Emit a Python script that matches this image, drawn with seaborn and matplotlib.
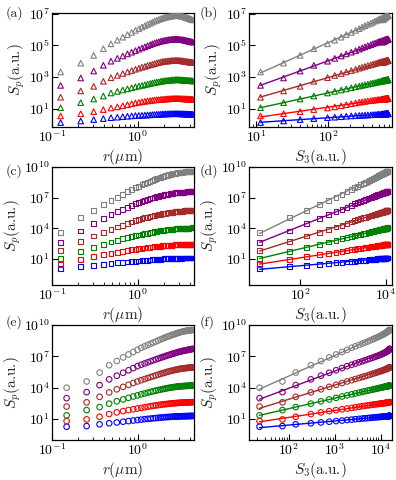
import numpy as np
import pandas as pd
import matplotlib
matplotlib.use("Agg")
import matplotlib.pyplot as plt
import seaborn as sns
from matplotlib.ticker import FixedLocator, FuncFormatter, NullLocator

# ---------------- data (log10 of S_p) ----------------
r_a = [0.126, 0.216, 0.306, 0.396, 0.486, 0.576, 0.666, 0.756, 0.846, 0.936,
       1.026, 1.116, 1.206, 1.296, 1.386, 1.476, 1.566, 1.656, 1.746, 1.836,
       1.926, 2.016, 2.106, 2.196, 2.286, 2.376, 2.466, 2.556, 2.646, 2.736,
       2.826, 2.916, 3.006, 3.096, 3.186, 3.276, 3.366, 3.456, 3.546, 3.636,
       3.726, 3.816, 3.906, 3.996, 4.086, 4.176, 4.266, 4.356]
a_p1 = [0.12, 0.22, 0.31, 0.37, 0.43, 0.46, 0.49, 0.52, 0.54, 0.56,
        0.57, 0.58, 0.59, 0.60, 0.61, 0.62, 0.63, 0.64, 0.64, 0.65, 0.66, 0.66, 0.67, 0.67, 0.67,
        0.68, 0.68, 0.68, 0.68, 0.68, 0.68, 0.68, 0.68, 0.68, 0.67, 0.67, 0.67, 0.67, 0.66, 0.66,
        0.66, 0.66, 0.65, 0.65, 0.65, 0.65, 0.65, 0.64]
a_p2 = [0.54, 0.68, 0.81, 0.94, 1.04, 1.11, 1.18, 1.25, 1.31, 1.36,
        1.40, 1.43, 1.46, 1.49, 1.51, 1.53, 1.55, 1.56, 1.57, 1.58, 1.59, 1.60, 1.61, 1.62, 1.62,
        1.63, 1.63, 1.63, 1.64, 1.64, 1.64, 1.64, 1.64, 1.63, 1.63, 1.63, 1.62, 1.62, 1.62, 1.61,
        1.61, 1.61, 1.60, 1.60, 1.60, 1.60, 1.59, 1.59]
a_p3 = [1.06, 1.38, 1.61, 1.80, 1.99, 2.09, 2.18, 2.25, 2.32, 2.38,
        2.43, 2.47, 2.51, 2.55, 2.59, 2.62, 2.65, 2.68, 2.70, 2.72, 2.74, 2.76, 2.77, 2.78, 2.79,
        2.80, 2.81, 2.82, 2.82, 2.83, 2.83, 2.83, 2.83, 2.82, 2.82, 2.81, 2.81, 2.80, 2.80, 2.79,
        2.79, 2.78, 2.78, 2.77, 2.77, 2.76, 2.76, 2.75]
a_p4 = [1.72, 2.12, 2.41, 2.73, 2.96, 3.10, 3.22, 3.32, 3.41, 3.49,
        3.56, 3.62, 3.67, 3.73, 3.77, 3.81, 3.85, 3.89, 3.92, 3.95, 3.97, 3.99, 4.00, 4.01, 4.02,
        4.03, 4.04, 4.04, 4.05, 4.05, 4.05, 4.05, 4.04, 4.04, 4.03, 4.02, 4.01, 4.00, 3.99, 3.98,
        3.97, 3.96, 3.96, 3.95, 3.94, 3.94, 3.93, 3.93]
a_p5 = [2.47, 2.94, 3.38, 3.74, 4.00, 4.18, 4.33, 4.46, 4.57, 4.67,
        4.76, 4.84, 4.91, 4.98, 5.04, 5.10, 5.15, 5.19, 5.23, 5.26, 5.29, 5.31, 5.33, 5.35, 5.36,
        5.37, 5.38, 5.39, 5.40, 5.40, 5.40, 5.40, 5.39, 5.38, 5.37, 5.36, 5.35, 5.34, 5.33, 5.31,
        5.30, 5.28, 5.27, 5.26, 5.25, 5.23, 5.22, 5.21]
a_p6 = [3.32, 3.88, 4.37, 4.79, 5.10, 5.33, 5.52, 5.68, 5.82, 5.95,
        6.06, 6.16, 6.25, 6.33, 6.40, 6.47, 6.54, 6.59, 6.64, 6.68, 6.72, 6.75, 6.78, 6.80, 6.82,
        6.84, 6.86, 6.87, 6.88, 6.89, 6.89, 6.89, 6.88, 6.87, 6.86, 6.85, 6.83, 6.81, 6.79, 6.77,
        6.75, 6.73, 6.71, 6.69, 6.67, 6.65, 6.63, 6.61]

r_c = list(r_a)
c_p1 = [0.09, 0.27, 0.40, 0.50, 0.57, 0.63, 0.68, 0.72, 0.76, 0.79,
        0.82, 0.85, 0.87, 0.90, 0.92, 0.94, 0.96, 0.97, 0.99, 1.00, 1.01, 1.02, 1.03, 1.04, 1.05,
        1.05, 1.06, 1.07, 1.07, 1.08, 1.08, 1.08, 1.09, 1.09, 1.09, 1.10, 1.10, 1.10, 1.10, 1.10,
        1.11, 1.11, 1.11, 1.11, 1.11, 1.11, 1.11, 1.11]
c_p2 = [0.51, 0.95, 1.22, 1.42, 1.57, 1.68, 1.77, 1.84, 1.90, 1.95,
        2.00, 2.04, 2.08, 2.12, 2.15, 2.18, 2.20, 2.23, 2.25, 2.27, 2.29, 2.30, 2.32, 2.33, 2.34,
        2.35, 2.36, 2.37, 2.38, 2.39, 2.39, 2.40, 2.41, 2.41, 2.42, 2.42, 2.42, 2.43, 2.43, 2.43,
        2.44, 2.44, 2.44, 2.44, 2.45, 2.45, 2.45, 2.45]
c_p3 = [1.06, 1.76, 2.16, 2.45, 2.67, 2.84, 2.98, 3.10, 3.20, 3.28,
        3.35, 3.42, 3.48, 3.54, 3.59, 3.63, 3.67, 3.71, 3.74, 3.77, 3.80, 3.82, 3.84, 3.86, 3.88,
        3.90, 3.91, 3.92, 3.94, 3.95, 3.96, 3.97, 3.97, 3.98, 3.99, 4.00, 4.00, 4.01, 4.01, 4.02,
        4.02, 4.03, 4.03, 4.04, 4.04, 4.04, 4.05, 4.05]
c_p4 = [1.82, 2.72, 3.25, 3.62, 3.91, 4.13, 4.32, 4.48, 4.62, 4.75,
        4.86, 4.95, 5.03, 5.10, 5.16, 5.21, 5.26, 5.31, 5.35, 5.39, 5.42, 5.45, 5.48, 5.51, 5.53,
        5.55, 5.57, 5.59, 5.61, 5.62, 5.63, 5.65, 5.66, 5.67, 5.68, 5.69, 5.70, 5.71, 5.72, 5.72,
        5.73, 5.74, 5.74, 5.75, 5.75, 5.76, 5.76, 5.77]
c_p5 = [2.60, 3.75, 4.45, 4.95, 5.33, 5.62, 5.86, 6.07, 6.25, 6.41,
        6.55, 6.66, 6.75, 6.84, 6.91, 6.98, 7.04, 7.10, 7.15, 7.20, 7.24, 7.28, 7.31, 7.34, 7.37,
        7.40, 7.42, 7.44, 7.46, 7.47, 7.49, 7.50, 7.51, 7.52, 7.53, 7.54, 7.54, 7.55, 7.55, 7.56,
        7.56, 7.57, 7.57, 7.57, 7.58, 7.58, 7.58, 7.58]
c_p6 = [3.60, 5.06, 5.77, 6.30, 6.72, 7.05, 7.33, 7.57, 7.78, 7.97,
        8.13, 8.27, 8.39, 8.50, 8.60, 8.69, 8.78, 8.86, 8.93, 8.99, 9.05, 9.10, 9.15, 9.20, 9.24,
        9.28, 9.31, 9.34, 9.37, 9.39, 9.41, 9.43, 9.45, 9.47, 9.48, 9.50, 9.51, 9.52, 9.53, 9.54,
        9.55, 9.55, 9.56, 9.56, 9.57, 9.57, 9.58, 9.58]

r_e = [0.148, 0.253, 0.358, 0.463, 0.568, 0.673, 0.778, 0.883, 0.988,
       1.093, 1.198, 1.303, 1.408, 1.513, 1.618, 1.723, 1.828, 1.933, 2.038,
       2.143, 2.248, 2.353, 2.458, 2.563, 2.668, 2.773, 2.878, 2.983, 3.088,
       3.193, 3.298, 3.403, 3.508, 3.613, 3.718, 3.823, 3.928, 4.033, 4.138,
       4.243, 4.348]
e_p1 = [0.27, 0.33, 0.50, 0.60, 0.68, 0.75, 0.81, 0.86, 0.91,
        0.95, 0.99, 1.02, 1.05, 1.08, 1.10, 1.12, 1.14, 1.16, 1.18, 1.19, 1.20, 1.21, 1.22, 1.23,
        1.24, 1.25, 1.25, 1.26, 1.26, 1.27, 1.27, 1.28, 1.28, 1.28, 1.29, 1.29, 1.29, 1.29, 1.30,
        1.30, 1.30]
e_p2 = [0.81, 0.97, 1.22, 1.48, 1.64, 1.76, 1.86, 1.94, 2.01,
        2.07, 2.13, 2.18, 2.23, 2.27, 2.31, 2.34, 2.37, 2.40, 2.42, 2.44, 2.46, 2.48, 2.50, 2.51,
        2.52, 2.53, 2.54, 2.55, 2.56, 2.57, 2.58, 2.58, 2.59, 2.59, 2.60, 2.60, 2.61, 2.61, 2.61,
        2.62, 2.62]
e_p3 = [1.36, 1.86, 2.15, 2.48, 2.70, 2.88, 3.03, 3.16, 3.27,
        3.37, 3.45, 3.53, 3.60, 3.66, 3.72, 3.77, 3.82, 3.86, 3.90, 3.94, 3.97, 4.00, 4.03, 4.05,
        4.07, 4.09, 4.11, 4.12, 4.13, 4.14, 4.15, 4.16, 4.17, 4.17, 4.18, 4.18, 4.19, 4.19, 4.20,
        4.20, 4.20]
e_p4 = [2.20, 2.60, 3.13, 3.55, 3.85, 4.08, 4.28, 4.45, 4.60,
        4.72, 4.83, 4.93, 5.02, 5.10, 5.18, 5.25, 5.32, 5.38, 5.44, 5.49, 5.54, 5.58, 5.62, 5.66,
        5.69, 5.72, 5.75, 5.78, 5.80, 5.82, 5.84, 5.86, 5.87, 5.88, 5.89, 5.90, 5.91, 5.92, 5.93,
        5.94, 5.95]
e_p5 = [3.00, 3.58, 4.25, 4.80, 5.15, 5.43, 5.67, 5.88, 6.06,
        6.20, 6.32, 6.43, 6.53, 6.62, 6.71, 6.79, 6.86, 6.93, 6.99, 7.05, 7.11, 7.16, 7.21, 7.26,
        7.30, 7.34, 7.38, 7.42, 7.45, 7.48, 7.51, 7.54, 7.56, 7.58, 7.60, 7.62, 7.64, 7.66, 7.68,
        7.70, 7.72]
e_p6 = [4.00, 4.60, 5.45, 6.15, 6.55, 6.90, 7.18, 7.42, 7.62,
        7.82, 7.96, 8.09, 8.21, 8.32, 8.42, 8.52, 8.61, 8.69, 8.77, 8.84, 8.91, 8.97, 9.03, 9.08,
        9.13, 9.18, 9.22, 9.26, 9.30, 9.33, 9.36, 9.39, 9.41, 9.43, 9.45, 9.47, 9.48, 9.49, 9.50,
        9.51, 9.52]

colors = ["blue", "red", "green", "brown", "purple", "gray"]
panel_labels = ["(a)", "(b)", "(c)", "(d)", "(e)", "(f)"]

# ---------------- style ----------------
sns.set_theme(style="ticks")
plt.rcParams.update({
    "font.family": ["cmr10", "DejaVu Serif"],
    "axes.formatter.use_mathtext": True,
    "mathtext.fontset": "cm",
    "xtick.direction": "in", "ytick.direction": "in",
    "xtick.major.size": 4, "ytick.major.size": 4,
    "xtick.minor.size": 2, "ytick.minor.size": 2,
    "xtick.major.width": 0.8, "ytick.major.width": 0.8,
    "xtick.minor.width": 0.6, "ytick.minor.width": 0.6,
    "xtick.major.pad": 2, "ytick.major.pad": 1.5,
    "axes.linewidth": 0.9, "axes.edgecolor": "black",
    "xtick.color": "black", "ytick.color": "black",
    "axes.facecolor": "white",
})

fig = plt.figure(figsize=(3.96, 4.8), dpi=100)
W, H = 396.0, 480.0


def add_ax(x0, x1, y0, y1):
    return fig.add_axes([x0 / W, 1 - y1 / H, (x1 - x0) / W, (y1 - y0) / H])


rows = [(13, 127), (167, 285), (325, 440)]
cols = [(52, 194), (249, 392)]

fmt = FuncFormatter(lambda v, pos: r"$10^{%d}$" % int(round(np.log10(v))))


def style_axis(ax, xlim, ylim, xmaj, xmin, ymaj, xlabel):
    ax.set_xscale("log")
    ax.set_yscale("log")
    ax.set_xlim(*xlim)
    ax.set_ylim(*ylim)
    ax.xaxis.set_major_locator(FixedLocator(xmaj))
    if xmin:
        ax.xaxis.set_minor_locator(FixedLocator(xmin))
    else:
        ax.xaxis.set_minor_locator(NullLocator())
    ax.yaxis.set_major_locator(FixedLocator(ymaj))
    ax.yaxis.set_minor_locator(NullLocator())
    ax.xaxis.set_major_formatter(fmt)
    ax.yaxis.set_major_formatter(fmt)
    ax.tick_params(labelsize=10)
    ax.set_xlabel(xlabel, fontsize=11, labelpad=1)
    ax.set_ylabel(r"$S_p$(a.u.)", fontsize=11, labelpad=1)
    for s in ax.spines.values():
        s.set_visible(True)
        s.set_color("black")


left_minor = [0.2, 0.3, 0.4, 0.5, 0.6, 0.7, 0.8, 0.9, 2, 3, 4]

datasets = [
    dict(r=r_a, S=[a_p1, a_p2, a_p3, a_p4, a_p5, a_p6], marker="^", s=16,
         ylim=(10 ** -0.16, 10 ** 7.05), ymaj=[1e1, 1e3, 1e5, 1e7],
         xlim_r=(10 ** 0.9, 10 ** 2.885), xmaj_r=[10, 100],
         xmin_r=[9, 20, 30, 40, 50, 60, 70, 80, 90, 200, 300, 400, 500, 600, 700]),
    dict(r=r_c, S=[c_p1, c_p2, c_p3, c_p4, c_p5, c_p6], marker="s", s=12,
         ylim=(10 ** -1.53, 10 ** 10), ymaj=[1e1, 1e4, 1e7, 1e10],
         xlim_r=(10 ** 0.81, 10 ** 4.15), xmaj_r=[1e2, 1e4], xmin_r=None),
    dict(r=r_e, S=[e_p1, e_p2, e_p3, e_p4, e_p5, e_p6], marker="o", s=16,
         ylim=(10 ** -1.0, 10 ** 10), ymaj=[1e1, 1e4, 1e7, 1e10],
         xlim_r=(10 ** 1.13, 10 ** 4.25), xmaj_r=[1e2, 1e3, 1e4],
         xmin_r=[20, 30, 40, 50, 60, 70, 80, 90, 200, 300, 400, 500, 600, 700, 800, 900,
                 2000, 3000, 4000, 5000, 6000, 7000, 8000, 9000]),
]

for i, d in enumerate(datasets):
    axL = add_ax(cols[0][0], cols[0][1], rows[i][0], rows[i][1])
    axR = add_ax(cols[1][0], cols[1][1], rows[i][0], rows[i][1])
    for ax in (axL, axR):
        ax.set_xscale("log")
        ax.set_yscale("log")
    r = np.array(d["r"])
    S = [10 ** np.array(v) for v in d["S"]]
    S3 = S[2]
    for p in range(6):
        df = pd.DataFrame({"r": r, "S": S[p], "S3": S3})
        sns.scatterplot(data=df, x="r", y="S", ax=axL, marker=d["marker"], s=d["s"],
                        facecolor="none", edgecolor=colors[p], linewidth=0.8,
                        legend=False, zorder=3)
        sns.scatterplot(data=df, x="S3", y="S", ax=axR, marker=d["marker"], s=d["s"],
                        facecolor="none", edgecolor=colors[p], linewidth=0.8,
                        legend=False, zorder=3)
        # power-law fit S_p ~ S_3^zeta
        k, b = np.polyfit(np.log10(S3), np.log10(S[p]), 1)
        xf = np.array([S3.min(), S3.max()])
        fit = pd.DataFrame({"x": xf, "y": 10 ** (b + k * np.log10(xf))})
        sns.lineplot(data=fit, x="x", y="y", ax=axR, color=colors[p], linewidth=1.0,
                     legend=False, zorder=2)
    style_axis(axL, (0.1, 4.5), d["ylim"], [0.1, 1.0], left_minor, d["ymaj"],
               r"$r(\mu\mathrm{m})$")
    style_axis(axR, d["xlim_r"], d["ylim"], d["xmaj_r"], d["xmin_r"], d["ymaj"],
               r"$S_3$(a.u.)")
    ylab = [13, 171, 322][i]
    fig.text(6 / W, 1 - ylab / H, panel_labels[2 * i],
             fontsize=10, ha="left", va="center")
    fig.text(200 / W, 1 - ylab / H, panel_labels[2 * i + 1],
             fontsize=10, ha="left", va="center")

fig.savefig("out.png", dpi=100)
